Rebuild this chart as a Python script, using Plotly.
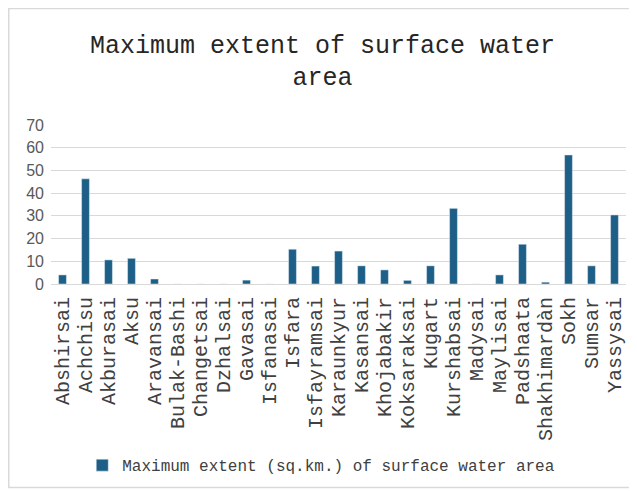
import plotly.graph_objects as go

# Data
rivers = [
    "Abshirsai", "Achchisu", "Akburasai", "Aksu", "Aravansai", "Bulak-Bashi",
    "Changetsai", "Dzhalsai", "Gavasai", "Isfanasai", "Isfara", "Isfayramsai",
    "Karaunkyur", "Kasansai", "Khojabakir", "Koksaraksai", "Kugart", "Kurshabsai",
    "Madysai", "Maylisai", "Padshaata", "Shakhimardàn", "Sokh", "Sumsar", "Yassysai",
]
max_extent = [
    4.0, 46.3, 10.6, 11.3, 2.2, 0,
    0, 0, 1.7, 0, 15.3, 7.9,
    14.5, 8.0, 6.2, 1.6, 8.0, 33.3,
    0, 4.0, 17.5, 0.8, 56.8, 8.0, 30.4,
]
y_ticks = [0, 10, 20, 30, 40, 50, 60, 70]

mono = "Liberation Mono, Courier New, monospace"

fig = go.Figure()
fig.add_trace(go.Bar(
    x=rivers,
    y=max_extent,
    name="Maximum extent (sq.km.) of surface water area",
    marker_color="#1d5f86",
))

# page body adds an 8px offset, so the figure is sized to fit the window
fig.update_layout(
    width=629,
    height=483,
    margin=dict(l=43, r=11, t=117, b=207, autoexpand=False),
    paper_bgcolor="white",
    plot_bgcolor="white",
    bargap=0.66,
    title=dict(
        text="Maximum extent of surface water<br>area",
        x=0.5, xanchor="center",
        y=0.907, yanchor="middle",
        font=dict(family=mono, size=25, color="#262626"),
    ),
    showlegend=True,
    legend=dict(
        orientation="h",
        x=0.47, xanchor="center",
        y=-1.14, yanchor="middle",
        font=dict(family=mono, size=16, color="#404040"),
        itemwidth=30,
    ),
    xaxis=dict(
        automargin=False,
        tickmode="linear", tick0=0, dtick=1,
        tickangle=-90,
        tickfont=dict(family=mono, size=20, color="#404040"),
        ticklabelstandoff=4,
        showline=True, linecolor="#d9d9d9",
        ticks="",
    ),
    yaxis=dict(
        automargin=False,
        range=[0, 70],
        tickvals=y_ticks,
        tickfont=dict(family="Liberation Sans, Arial, sans-serif", size=16, color="#595959"),
        gridcolor="#d9d9d9",
        zeroline=False,
        ticklabelstandoff=6,
    ),
    shapes=[dict(
        type="rect", xref="paper", yref="paper",
        x0=-0.0735, x1=1.011, y0=-1.28, y1=1.733,
        line=dict(color="#d9d9d9", width=1.5),
    )],
)

fig.write_html("out.html")
